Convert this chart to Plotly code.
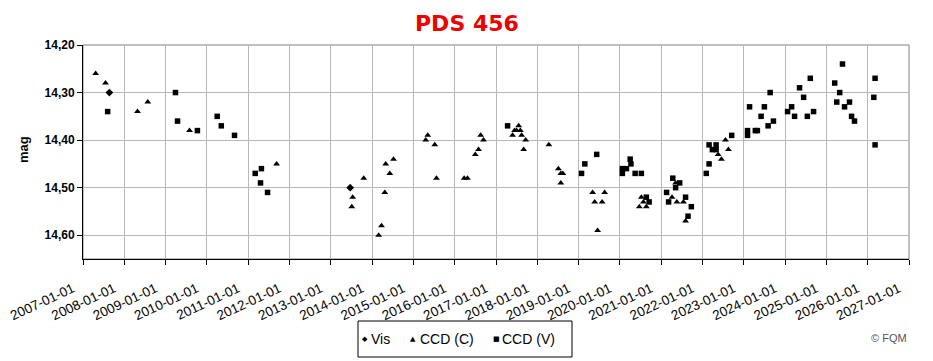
import plotly.graph_objects as go

# ---- data ----
vis_dates = ["2007-08-22", "2013-06-21"]
vis_mag = [14.30, 14.50]

ccdc_dates = [
    "2007-04-23", "2007-07-19", "2008-04-27", "2008-07-27", "2009-07-31", "2011-09-09",
    "2013-07-13", "2013-07-05", "2013-10-19", "2014-02-28", "2014-03-25", "2014-04-23",
    "2014-05-01", "2014-06-06", "2014-07-09", "2015-04-20", "2015-05-08", "2015-07-09",
    "2015-07-24", "2016-03-25", "2016-04-23", "2016-07-01", "2016-07-30", "2016-08-18",
    "2016-09-12", "2017-05-27", "2017-06-14", "2017-07-02", "2017-07-20", "2017-08-04",
    "2017-08-15", "2017-09-20", "2017-09-02", "2018-04-13", "2018-07-06", "2018-07-28",
    "2018-08-15", "2018-07-28", "2019-05-05", "2019-08-19", "2019-05-23", "2019-07-28",
    "2019-06-18", "2020-07-09", "2020-07-27", "2020-06-21", "2020-08-22", "2021-04-06",
    "2021-05-19", "2021-05-08", "2021-07-16", "2021-08-04", "2022-05-19", "2022-06-17",
    "2022-07-23", "2022-08-18",
]
ccdc_mag = [
    14.26, 14.28, 14.34, 14.32, 14.38, 14.45,
    14.52, 14.54, 14.48, 14.60, 14.58, 14.51,
    14.45, 14.47, 14.44, 14.40, 14.39, 14.41,
    14.48, 14.48, 14.48, 14.43, 14.42, 14.39,
    14.40, 14.39, 14.38, 14.38, 14.37, 14.38,
    14.39, 14.40, 14.42, 14.41, 14.46, 14.47,
    14.47, 14.49, 14.51, 14.51, 14.53, 14.53,
    14.59, 14.52, 14.53, 14.54, 14.54, 14.52,
    14.53, 14.49, 14.53, 14.57, 14.43, 14.44,
    14.40, 14.42,
]

ccdv_dates = [
    "2007-08-07", "2009-03-29", "2009-04-16", "2009-10-09", "2010-04-02", "2010-05-08",
    "2010-09-02", "2011-03-04", "2011-04-28", "2011-04-20", "2011-06-21", "2017-04-13",
    "2019-01-27", "2019-02-25", "2019-06-10", "2020-01-23", "2020-01-23", "2020-02-28",
    "2020-04-01", "2020-04-08", "2020-05-15", "2020-07-09", "2020-08-22", "2020-09-16",
    "2021-02-17", "2021-03-07", "2021-04-13", "2021-05-08", "2021-06-13", "2021-08-04",
    "2021-09-24", "2021-08-26", "2022-02-03", "2022-02-28", "2022-02-28", "2022-03-29",
    "2022-05-01", "2022-05-01", "2022-09-16", "2023-02-03", "2023-02-03", "2023-02-21",
    "2023-04-13", "2023-05-01", "2023-06-03", "2023-07-02", "2023-08-04", "2023-08-22",
    "2023-09-20", "2024-01-23", "2024-02-28", "2024-03-25", "2024-05-08", "2024-06-13",
    "2024-07-16", "2024-08-11", "2024-09-09", "2025-03-15", "2025-04-02", "2025-04-28",
    "2025-05-23", "2025-06-10", "2025-07-24", "2025-08-11", "2025-09-06", "2026-02-24",
    "2026-03-07", "2026-03-07",
]
ccdv_mag = [
    14.34, 14.30, 14.36, 14.38, 14.35, 14.37,
    14.39, 14.47, 14.46, 14.49, 14.51, 14.37,
    14.47, 14.45, 14.43, 14.46, 14.47, 14.46,
    14.44, 14.45, 14.47, 14.47, 14.52, 14.53,
    14.51, 14.53, 14.48, 14.50, 14.49, 14.52,
    14.54, 14.56, 14.47, 14.45, 14.41, 14.42,
    14.41, 14.42, 14.39, 14.38, 14.39, 14.33,
    14.38, 14.38, 14.35, 14.33, 14.37, 14.30,
    14.36, 14.34, 14.33, 14.35, 14.29, 14.31,
    14.35, 14.27, 14.34, 14.28, 14.32, 14.30,
    14.24, 14.33, 14.32, 14.35, 14.36, 14.31,
    14.27, 14.41,
]

x_tick_dates = [
    "2007-01-01", "2008-01-01", "2009-01-01", "2010-01-01", "2011-01-01",
    "2012-01-01", "2013-01-01", "2014-01-01", "2015-01-01", "2016-01-01",
    "2017-01-01", "2018-01-01", "2019-01-01", "2020-01-01", "2021-01-01",
    "2022-01-01", "2023-01-01", "2024-01-01", "2025-01-01", "2026-01-01",
    "2027-01-01",
]
y_ticks = [14.20, 14.30, 14.40, 14.50, 14.60]
series_names = ["Vis", "CCD (C)", "CCD (V)"]
legend_glyphs = ["◆", "▲", "■"]

# The page body has an 8px margin, so the figure is sized to fit the window.
PL, PT, PW, PH = 83, 45, 826, 214   # plot area in window pixels


def px(x):
    return (x - PL) / PW


def py(y):
    return (PT + PH - y) / PH


fig = go.Figure()
fig.add_trace(go.Scatter(x=vis_dates, y=vis_mag, mode="markers", name=series_names[0],
                         marker=dict(symbol="diamond", size=6, color="black")))
fig.add_trace(go.Scatter(x=ccdc_dates, y=ccdc_mag, mode="markers", name=series_names[1],
                         marker=dict(symbol="triangle-up", size=6, color="black")))
fig.add_trace(go.Scatter(x=ccdv_dates, y=ccdv_mag, mode="markers", name=series_names[2],
                         marker=dict(symbol="square", size=5.5, color="black")))

annotations = [
    dict(text="<b>PDS 456</b>", xref="paper", yref="paper", x=px(467), y=py(23),
         xanchor="center", yanchor="middle", showarrow=False,
         font=dict(family="DejaVu Sans, Verdana, sans-serif", size=22, color="#ee0000")),
    dict(text="<b>mag</b>", xref="paper", yref="paper", x=px(23), y=py(150),
         xanchor="center", yanchor="middle", textangle=-90, showarrow=False,
         font=dict(size=13)),
    dict(text="© FQM", xref="paper", yref="paper", x=px(909), y=py(338),
         xanchor="right", yanchor="middle", showarrow=False,
         font=dict(size=11, color="#555555")),
]
sym_x = [365, 413, 496]
txt_x = [369, 418, 500]
for name, glyph, sx, tx in zip(series_names, legend_glyphs, sym_x, txt_x):
    annotations.append(dict(text=glyph, xref="paper", yref="paper", x=px(sx), y=py(339),
                            xanchor="center", yanchor="middle", showarrow=False,
                            font=dict(family="DejaVu Sans", size=7, color="black")))
    annotations.append(dict(text=name, xref="paper", yref="paper", x=px(tx), y=py(339),
                            xanchor="left", yanchor="middle", showarrow=False,
                            font=dict(size=14, color="black")))

fig.update_layout(
    width=925, height=353,
    margin=dict(l=75, r=24, t=37, b=102, autoexpand=False),
    paper_bgcolor="white", plot_bgcolor="white",
    separators=",.",
    font=dict(family="Liberation Sans, Arial, sans-serif", color="black"),
    showlegend=False,
    xaxis=dict(
        type="date", range=["2007-01-01", "2027-01-01"],
        tickvals=x_tick_dates,
        ticktext=[d + "\u00a0\u00a0\u00a0" for d in x_tick_dates],
        tickangle=-25, tickfont=dict(size=13.5),
        ticklabelstandoff=6, ticklabeloverflow="allow",
        showgrid=True, gridcolor="#b8b8b8", gridwidth=1,
        showline=True, linecolor="black", linewidth=1,
        ticks="outside", ticklen=5, tickcolor="black",
        zeroline=False, automargin=False,
    ),
    yaxis=dict(
        range=[14.65, 14.20], tickvals=y_ticks, tickformat=".2f",
        tickfont=dict(size=12, family="Liberation Sans, Arial", weight="bold"),
        showgrid=True, gridcolor="#b8b8b8", gridwidth=1,
        showline=True, linecolor="black", linewidth=1,
        ticks="outside", ticklen=5, tickcolor="black",
        zeroline=False, automargin=False,
    ),
    shapes=[
        dict(type="rect", xref="paper", yref="paper", x0=0, x1=1, y0=0, y1=1,
             line=dict(color="#808080", width=1), layer="below"),
        dict(type="rect", xref="paper", yref="paper", x0=px(358), x1=px(572),
             y0=py(357), y1=py(321), line=dict(color="black", width=1),
             fillcolor="white", layer="below"),
    ],
    annotations=annotations,
)

fig.write_html("out.html")
